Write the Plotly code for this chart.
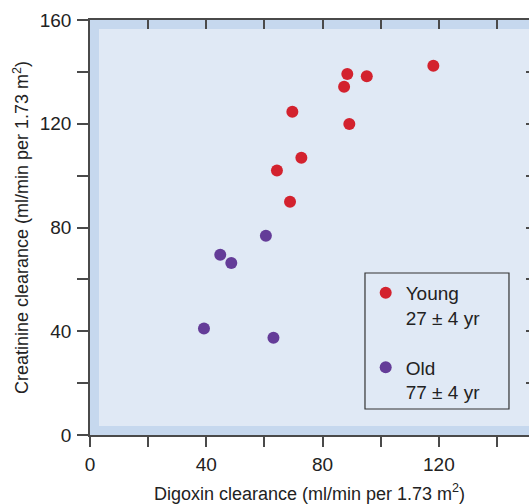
import plotly.graph_objects as go

# Data
young_x = [118.1, 88.5, 95.2, 87.4, 69.6, 89.2, 72.7, 64.3, 68.8]
young_y = [142.4, 139.2, 138.3, 134.3, 124.6, 119.9, 106.9, 102.0, 89.9]
old_x = [60.5, 44.8, 48.6, 39.2, 63.1]
old_y = [76.8, 69.5, 66.3, 41.1, 37.5]

young_label = "Young<br>27 ± 4 yr"
old_label = "Old<br>77 ± 4 yr"

x_tickvals = [0, 20, 40, 60, 80, 100, 120, 140]
x_ticktext = ["0", "", "40", "", "80", "", "120", ""]
y_tickvals = [0, 20, 40, 60, 80, 100, 120, 140, 160]
y_ticktext = ["0", "", "40", "", "80", "", "120", "", "160"]

X_MAX = 151.0
Y_MAX = 160.0

FONT = "Liberation Sans, Arial, Helvetica, sans-serif"
RED = "#d3222e"
PURPLE = "#643c98"
OUTER = "#c6d8ee"
INNER = "#e0e9f5"
AXIS = "#4a4a4a"

fig = go.Figure()
fig.add_trace(go.Scatter(x=young_x, y=young_y, mode="markers", name=young_label,
                         legendgroup="young",
                         marker=dict(color=RED, size=12, line=dict(width=0))))
fig.add_trace(go.Scatter(x=old_x, y=old_y, mode="markers", name=old_label,
                         legendgroup="old",
                         marker=dict(color=PURPLE, size=12, line=dict(width=0))))

# inner lighter panel
fig.add_shape(type="rect", xref="x", yref="y", x0=3.1, x1=X_MAX + 5, y0=3.5, y1=156.5,
              fillcolor=INNER, line=dict(width=0), layer="below")
# legend frame
fig.add_shape(type="rect", xref="paper", yref="paper",
              x0=0.6264, x1=0.9544, y0=0.0627, y1=0.3904,
              fillcolor=INNER, line=dict(color="#333333", width=1.2), layer="above")

fig.update_layout(
    width=529, height=504,
    margin=dict(l=90, r=0, t=20, b=69),
    paper_bgcolor="white",
    plot_bgcolor=OUTER,
    font=dict(family=FONT, size=19, color="#222222"),
    showlegend=True,
    legend=dict(x=0.628, y=0.388, xanchor="left", yanchor="top",
                bgcolor="rgba(0,0,0,0)", borderwidth=0,
                font=dict(family=FONT, size=19, color="#222222"),
                valign="top", tracegroupgap=22),
    xaxis=dict(range=[0, X_MAX], tickvals=x_tickvals, ticktext=x_ticktext,
               ticks="outside", ticklen=10, tickwidth=1.5, tickcolor=AXIS,
               ticklabelstandoff=1,
               showline=True, linecolor=AXIS, linewidth=1.5,
               showgrid=False, zeroline=False,
               title=dict(text="Digoxin clearance (ml/min per 1.73 m<sup>2</sup>)",
                          font=dict(size=18), standoff=16)),
    yaxis=dict(range=[0, Y_MAX], tickvals=y_tickvals, ticktext=y_ticktext,
               ticks="outside", ticklen=11, tickwidth=1.5, tickcolor=AXIS,
               ticklabelstandoff=2,
               showline=True, linecolor=AXIS, linewidth=1.5,
               showgrid=False, zeroline=False,
               title=dict(text="Creatinine clearance (ml/min per 1.73 m<sup>2</sup>)",
                          font=dict(size=18), standoff=6)),
    xaxis2=dict(range=[0, X_MAX], overlaying="x", side="top", anchor="y",
                tickvals=x_tickvals, ticks="inside", ticklen=9, tickwidth=1.5,
                tickcolor=AXIS, showticklabels=False,
                showline=True, linecolor=AXIS, linewidth=1.5,
                showgrid=False, zeroline=False),
    yaxis2=dict(range=[0, Y_MAX], overlaying="y", side="right", anchor="x",
                tickvals=y_tickvals, ticks="inside", ticklen=3, tickwidth=1.5,
                tickcolor=AXIS, showticklabels=False, showline=False,
                showgrid=False, zeroline=False),
)

# invisible trace to activate the mirrored axes
fig.add_trace(go.Scatter(x=[None], y=[None], xaxis="x2", yaxis="y2",
                         showlegend=False, hoverinfo="skip"))

# remove the browser's default 8px page margin so the figure fills the window
fig.write_html("out.html",
               config={"displayModeBar": False},
               post_script="document.body.style.margin='0';document.body.style.overflow='hidden';")
